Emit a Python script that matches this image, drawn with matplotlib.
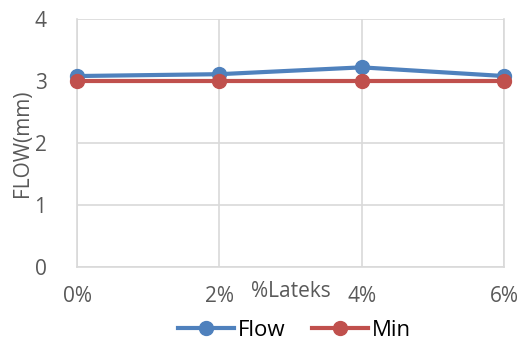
import matplotlib
matplotlib.use("Agg")
import matplotlib.pyplot as plt

plt.rcParams['font.family'] = ['Open Sans', 'DejaVu Sans']

# data
lateks = ["0%", "2%", "4%", "6%"]
flow = [3.08, 3.11, 3.22, 3.08]
min_flow = [3.0, 3.0, 3.0, 3.0]

blue = "#4F81BD"
red = "#C0504D"
grid_col = "#D9D9D9"
text_col = "#595959"

fig = plt.figure(figsize=(5.2, 3.45), dpi=100)
ax = fig.add_axes([77 / 520, 1 - 267 / 345, (504 - 77) / 520, (267 - 19) / 345])

x = list(range(len(lateks)))
ax.plot(x, flow, color=blue, lw=3, marker="o", ms=10, label="Flow", zorder=3, clip_on=False)
ax.plot(x, min_flow, color=red, lw=3, marker="o", ms=10, label="Min", zorder=4, clip_on=False)

ax.set_xlim(0, 3)
ax.set_ylim(0, 4)
ax.set_yticks([0, 1, 2, 3, 4])
ax.set_xticks(x)
ax.set_xticklabels(lateks)
ax.grid(True, color=grid_col, lw=1.2)
ax.set_axisbelow(True)
for s in ax.spines.values():
    s.set_color(grid_col)
    s.set_linewidth(1.2)
ax.spines["top"].set_visible(False)
ax.tick_params(length=0, labelsize=15, colors=text_col, pad=14)
ax.tick_params(axis="y", pad=22)

ax.set_xlabel("%Lateks", fontsize=15, color=text_col, labelpad=-19)
ax.set_ylabel("FLOW(mm)", fontsize=15, color=text_col, labelpad=1)

ax.legend(loc="center", bbox_to_anchor=(0.51, -0.255), ncol=2, frameon=False,
          fontsize=16, handlelength=2.5, columnspacing=1.2, handletextpad=0.2,
          labelcolor="black", borderaxespad=0)

fig.savefig("out.png", dpi=100)
